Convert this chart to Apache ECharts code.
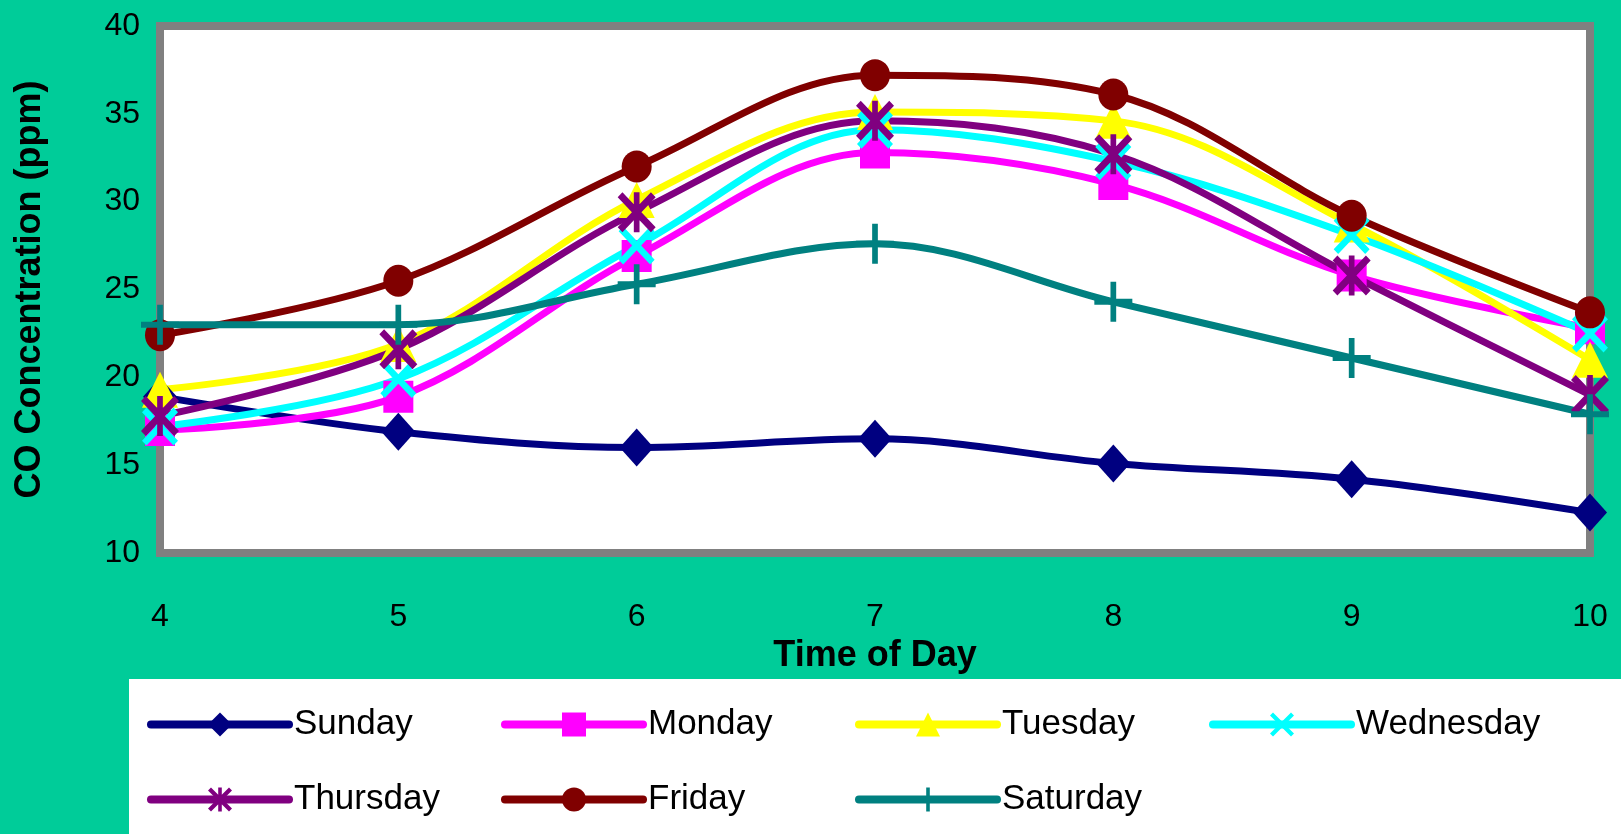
<!DOCTYPE html>
<html>
<head>
<meta charset="utf-8">
<script src="https://cdn.jsdelivr.net/npm/echarts@6/dist/echarts.min.js"></script>
<style>
  html, body { margin: 0; padding: 0; background: #00CC99; }
  #chart { width: 1621px; height: 834px; }
</style>
</head>
<body>
<div id="chart"></div>
<script>
// Hours of the day (x axis)
const hours = [4, 5, 6, 7, 8, 9, 10];

// CO concentration (ppm) per day of the week
const sunday    = [18.9, 16.9, 16.0, 16.5, 15.1, 14.2, 12.3];
const monday    = [17.0, 18.9, 26.9, 32.8, 31.0, 25.8, 22.8];
const tuesday   = [19.3, 21.9, 30.1, 35.1, 34.6, 28.7, 21.0];
const wednesday = [17.2, 19.9, 27.5, 34.1, 32.3, 28.1, 22.5];
const thursday  = [17.8, 21.6, 29.4, 34.6, 32.7, 25.8, 19.0];
const friday    = [22.4, 25.5, 32.0, 37.2, 36.1, 29.2, 23.7];
const saturday  = [23.0, 23.0, 25.3, 27.6, 24.3, 21.1, 17.9];

const dayNames = ['Sunday', 'Monday', 'Tuesday', 'Wednesday', 'Thursday', 'Friday', 'Saturday'];
const dayValues = [sunday, monday, tuesday, wednesday, thursday, friday, saturday];
const dayColors = ['#000080', '#FF00FF', '#FFFF00', '#00FFFF', '#800080', '#800000', '#008080'];

// Marker shapes: diamond, square, triangle, cross, asterisk, circle, plus
const crossPath = 'M0,5 L5,0 L20,15 L35,0 L40,5 L25,20 L40,35 L35,40 L20,25 L5,40 L0,35 L15,20 Z';
const starPath = crossPath + ' M17,0 L23,0 L23,40 L17,40 Z';
const plusPath = 'M17,0 L23,0 L23,17 L40,17 L40,23 L23,23 L23,40 L17,40 L17,23 L0,23 L0,17 L17,17 Z';
const daySymbols = ['diamond', 'rect', 'triangle', 'path://' + crossPath, 'path://' + starPath, 'circle', 'path://' + plusPath];
const daySymbolSizes = [[34, 38], [30, 32], [36, 36], [36, 38], [38, 40], [30, 32], [38, 40]];

const FONT = "'Liberation Sans', Arial, sans-serif";

const series = dayNames.map((name, i) => ({
  name: name,
  type: 'line',
  smooth: 0.35,
  data: hours.map((h, j) => [h, dayValues[i][j]]),
  symbol: daySymbols[i],
  symbolSize: daySymbolSizes[i],
  symbolKeepAspect: false,
  showAllSymbol: true,
  lineStyle: { color: dayColors[i], width: 7, cap: 'round', join: 'round' },
  itemStyle: { color: dayColors[i], borderWidth: 0 },
  emphasis: { disabled: true }
}));

const chart = echarts.init(document.getElementById('chart'));
chart.setOption({
  backgroundColor: '#00CC99',
  animation: false,
  textStyle: { fontFamily: FONT },
  graphic: [{
    type: 'rect',
    shape: { x: 129, y: 679, width: 1492, height: 155 },
    style: { fill: '#FFFFFF' },
    z: -1
  }],
  grid: {
    left: 160, right: 31, top: 26, bottom: 281,
    show: true,
    backgroundColor: '#FFFFFF',
    borderColor: '#808080',
    borderWidth: 8
  },
  xAxis: {
    type: 'value',
    min: 4, max: 10, interval: 1,
    name: 'Time of Day',
    nameLocation: 'middle',
    nameGap: 80,
    nameTextStyle: { fontFamily: FONT, fontSize: 36, fontWeight: 'bold', color: '#000' },
    axisLine: { show: false },
    axisTick: { show: false },
    splitLine: { show: false },
    axisLabel: { fontFamily: FONT, fontSize: 32, color: '#000', margin: 48 }
  },
  yAxis: {
    type: 'value',
    min: 10, max: 40, interval: 5,
    name: 'CO Concentration (ppm)',
    nameLocation: 'middle',
    nameGap: 112,
    nameTextStyle: { fontFamily: FONT, fontSize: 36, fontWeight: 'bold', color: '#000' },
    axisLine: { show: false },
    axisTick: { show: false },
    splitLine: { show: false },
    axisLabel: { fontFamily: FONT, fontSize: 32, color: '#000', margin: 20 }
  },
  legend: {
    data: dayNames,
    left: 147,
    top: 707,
    width: 1460,
    padding: 0,
    itemWidth: 138,
    itemHeight: 30,
    itemGap: 40,
    selectedMode: false,
    lineStyle: { width: 8, cap: 'round' },
    textStyle: { fontFamily: FONT, fontSize: 35, color: '#000', width: 167, lineHeight: 30, padding: [0, 0, 0, 0] }
  },
  series: series
});
</script>
</body>
</html>
